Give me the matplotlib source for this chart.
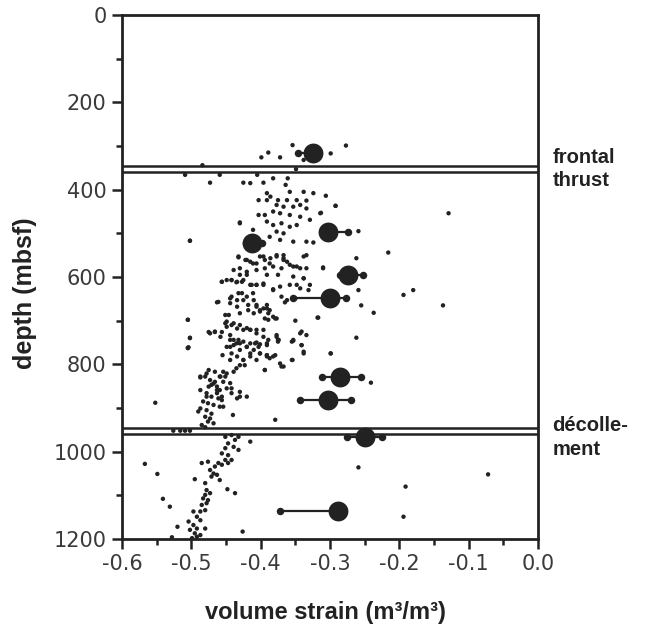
import matplotlib
matplotlib.use("Agg")
import matplotlib.pyplot as plt
import matplotlib.transforms as mtransforms

# ---------------- data ----------------
# Large symbols (mean strain per interval) with ranges
big_strain = [-0.325, -0.303, -0.413, -0.274, -0.300, -0.2855, -0.303, -0.2495, -0.289]
big_depth = [317, 496, 521, 595, 649, 830, 882, 966, 1136]
big_low = [-0.346, -0.310, -0.421, -0.285, -0.354, -0.311, -0.343, -0.276, -0.372]
big_high = [-0.325, -0.274, -0.398, -0.252, -0.277, -0.255, -0.270, -0.225, -0.289]

# Small symbols: above the frontal thrust
upper_strain = [-0.399, -0.389, -0.372, -0.299, -0.338, -0.354, -0.277, -0.484, -0.349]
upper_depth = [326, 315, 326, 317, 332, 298, 299, 344, 353]

# Small symbols: between frontal thrust and decollement
mid_strain = [
    -0.509, -0.473, -0.459, -0.425, -0.415, -0.405, -0.396, -0.382, -0.361, -0.364,
    -0.358, -0.391, -0.386, -0.403, -0.391, -0.375, -0.362, -0.338, -0.324, -0.306,
    -0.348, -0.334, -0.292, -0.377, -0.367, -0.353, -0.343, -0.334, -0.403, -0.394,
    -0.382, -0.372, -0.358, -0.343, -0.313, -0.329, -0.430, -0.391, -0.382, -0.370,
    -0.358, -0.348, -0.411, -0.377, -0.367, -0.387, -0.372, -0.353, -0.334, -0.324,
    -0.502, -0.292, -0.314, -0.129, -0.430, -0.502, -0.259, -0.216, -0.262, -0.310,
    -0.180, -0.194, -0.137, -0.237, -0.259, -0.255, -0.318, -0.505, -0.502, -0.505,
    -0.262, -0.299, -0.354, -0.370, -0.394, -0.241,
    -0.432, -0.420, -0.411, -0.401, -0.394, -0.387, -0.377, -0.367, -0.367, -0.358,
    -0.348, -0.338, -0.334, -0.310, -0.456, -0.442, -0.435, -0.427, -0.415, -0.406,
    -0.396, -0.430, -0.420, -0.391, -0.375, -0.358, -0.348, -0.338, -0.329, -0.463,
    -0.444, -0.444, -0.432, -0.425, -0.418, -0.411, -0.406, -0.401, -0.391, -0.387,
    -0.379, -0.382, -0.365, -0.394, -0.389, -0.451, -0.449, -0.439, -0.430, -0.420,
    -0.415, -0.406, -0.396, -0.475, -0.466, -0.456, -0.444, -0.444, -0.439, -0.432,
    -0.425, -0.415, -0.406, -0.401, -0.391, -0.377, -0.375, -0.353, -0.341, -0.334,
    -0.350, -0.317, -0.502, -0.505, -0.505,
    -0.504, -0.455, -0.444, -0.444, -0.435, -0.430, -0.420, -0.415, -0.408, -0.403,
    -0.401, -0.391, -0.391, -0.387, -0.379, -0.372, -0.367, -0.425, -0.430, -0.435,
    -0.439, -0.423, -0.475, -0.454, -0.449, -0.459, -0.451, -0.487, -0.480, -0.473,
    -0.466, -0.471, -0.463, -0.459, -0.463, -0.478, -0.471, -0.461, -0.456, -0.483,
    -0.476, -0.468, -0.459, -0.487, -0.490, -0.478, -0.471, -0.480, -0.473, -0.476,
    -0.468, -0.444, -0.442, -0.430, -0.454, -0.440, -0.379, -0.552, -0.394, -0.355,
    -0.341, -0.338, -0.299, -0.375, -0.355, -0.526, -0.516, -0.509, -0.502, -0.485,
    -0.480,
    -0.432, -0.422, -0.415, -0.406, -0.396, -0.386, -0.377, -0.367, -0.362, -0.353,
    -0.343, -0.334, -0.439, -0.430, -0.420, -0.406, -0.394, -0.382, -0.370, -0.456,
    -0.449, -0.442, -0.434, -0.425, -0.413, -0.406, -0.396, -0.382, -0.372, -0.353,
    -0.338, -0.343, -0.331, -0.442, -0.434, -0.427, -0.420, -0.410, -0.406, -0.396,
    -0.389, -0.382, -0.377, -0.434, -0.430, -0.418, -0.410, -0.401, -0.391, -0.446,
    -0.461, -0.451, -0.370, -0.362, -0.350,
    -0.473, -0.466, -0.458, -0.449, -0.442, -0.434, -0.425, -0.415, -0.406, -0.396,
    -0.389, -0.439, -0.430, -0.420, -0.410, -0.401, -0.391, -0.382, -0.449, -0.442,
    -0.434, -0.425, -0.415, -0.406, -0.391, -0.377, -0.374, -0.353, -0.343, -0.341,
    -0.338,
    -0.487, -0.478, -0.466, -0.458, -0.454, -0.468, -0.475, -0.463, -0.449, -0.442,
    -0.456, -0.430, -0.434, -0.420, -0.487, -0.478,
]
mid_depth = [
    366, 384, 366, 384, 385, 366, 384, 374, 374, 389,
    405, 408, 416, 424, 424, 424, 424, 405, 408, 414,
    424, 425, 437, 435, 439, 439, 435, 443, 458, 458,
    450, 454, 458, 462, 453, 469, 475, 473, 481, 477,
    485, 481, 492, 496, 500, 508, 515, 519, 519, 521,
    517, 437, 454, 454, 477, 517, 495, 544, 557, 580,
    630, 641, 665, 682, 630, 665, 693, 698, 739, 762,
    739, 775, 790, 805, 813, 842,
    553, 561, 569, 553, 561, 569, 550, 550, 561, 572,
    576, 553, 550, 578, 611, 607, 612, 611, 618, 618,
    618, 595, 595, 595, 595, 618, 618, 603, 618, 658,
    649, 660, 637, 653, 664, 637, 664, 676, 664, 676,
    695, 630, 658, 695, 698, 687, 702, 706, 710, 717,
    721, 721, 721, 726, 726, 726, 733, 744, 756, 744,
    748, 752, 750, 754, 756, 733, 744, 746, 725, 733,
    700, 693, 740, 698, 763,
    761, 779, 790, 760, 752, 767, 760, 775, 752, 760,
    775, 752, 779, 786, 779, 798, 805, 790, 802, 809,
    817, 802, 813, 817, 821, 828, 828, 830, 828, 836,
    840, 847, 851, 859, 866, 866, 874, 878, 882, 885,
    889, 893, 897, 901, 908, 905, 913, 920, 924, 931,
    935, 843, 855, 874, 897, 916, 927, 888, 813, 790,
    756, 775, 775, 748, 748, 952, 952, 952, 952, 939,
    944,
    555, 561, 565, 569, 553, 557, 553, 557, 565, 576,
    580, 580, 584, 580, 588, 584, 580, 576, 580, 611,
    607, 607, 611, 607, 618, 618, 615, 628, 622, 599,
    603, 626, 630, 645, 653, 637, 645, 653, 668, 672,
    683, 691, 695, 668, 683, 676, 683, 679, 672, 687,
    657, 706, 645, 653, 649,
    729, 725, 737, 714, 710, 718, 721, 721, 729, 737,
    744, 744, 752, 760, 767, 775, 782, 782, 760, 775,
    782, 790, 782, 790, 779, 737, 744, 744, 729, 756,
    771,
    828, 821, 817, 828, 840, 844, 851, 859, 855, 866,
    874, 863, 878, 874, 859, 874,
]

# Small symbols: below the decollement
low_strain = [
    -0.451, -0.442, -0.437, -0.432, -0.447, -0.451, -0.439, -0.432, -0.456, -0.447,
    -0.442, -0.451, -0.461, -0.466, -0.456, -0.447, -0.473, -0.468, -0.471, -0.463,
    -0.459, -0.476, -0.485, -0.480, -0.415, -0.567, -0.549, -0.495, -0.478, -0.480,
    -0.473, -0.483, -0.476, -0.478, -0.485, -0.480, -0.487, -0.497, -0.492, -0.504,
    -0.497, -0.487, -0.492, -0.502, -0.495, -0.480, -0.487, -0.492, -0.499, -0.448,
    -0.437, -0.541, -0.531, -0.520, -0.528, -0.426, -0.259, -0.191, -0.072, -0.194,
]
low_depth = [
    966, 962, 973, 966, 981, 992, 989, 996, 1004, 1008,
    1019, 1019, 1026, 1034, 1030, 1026, 1042, 1050, 1057, 1053,
    1065, 1023, 1026, 1072, 977, 1028, 1051, 1063, 1088, 1099,
    1095, 1107, 1111, 1118, 1122, 1134, 1137, 1137, 1149, 1160,
    1168, 1157, 1176, 1179, 1187, 1176, 1191, 1195, 1198, 1086,
    1095, 1108, 1126, 1172, 1196, 1183, 1036, 1080, 1052, 1149,
]

fault_depths = [(346, 360), (945, 960)]
fault_labels = ["frontal\nthrust", "décolle-\nment"]
fault_label_depth = [353, 968]

x_ticks = [-0.6, -0.5, -0.4, -0.3, -0.2, -0.1, 0.0]
y_ticks = [0, 200, 400, 600, 800, 1000, 1200]

# ---------------- plot ----------------
plt.rcParams['axes.unicode_minus'] = False
ink = "#222222"

fig = plt.figure(figsize=(6.59, 6.28), dpi=100)
ax = fig.add_axes([122 / 659, 1 - 539 / 628, 416 / 659, 524 / 628])

# fault lines (double lines)
for d1, d2 in fault_depths:
    ax.axhline(d1, color=ink, lw=1.8, zorder=2)
    ax.axhline(d2, color=ink, lw=1.8, zorder=2)

# small scatter
for xs, ds in [(upper_strain, upper_depth), (mid_strain, mid_depth), (low_strain, low_depth)]:
    ax.scatter(xs, ds, s=10, color=ink, edgecolors='none', zorder=3)

# big symbols with range bars
for x, d, lo, hi in zip(big_strain, big_depth, big_low, big_high):
    ax.plot([lo, hi], [d, d], color=ink, lw=1.6, zorder=4)
    ax.plot([lo, hi], [d, d], 'o', color=ink, ms=5.4, mec='none', zorder=4)
ax.plot(big_strain, big_depth, 'o', color=ink, ms=14.3, mec='none', zorder=5, ls='none')

ax.set_xlim(-0.6, 0.0)
ax.set_ylim(1200, 0)
ax.set_xticks(x_ticks)
ax.set_xticklabels(["%.1f" % v for v in x_ticks])
ax.set_yticks(y_ticks)
ax.set_yticklabels([str(v) for v in y_ticks])
ax.set_xticks([-0.55, -0.45, -0.35, -0.25, -0.15, -0.05], minor=True)
ax.set_yticks([100, 300, 500, 700, 900, 1100], minor=True)

for s in ax.spines.values():
    s.set_linewidth(2.0)
    s.set_color(ink)
ax.tick_params(which='major', direction='out', length=7, width=1.8, color=ink,
               labelsize=15, labelcolor="#3a3a3a", pad=4)
ax.tick_params(which='minor', direction='out', length=4.5, width=1.8, color=ink)
for lab in ax.get_xticklabels() + ax.get_yticklabels():
    lab.set_family("DejaVu Sans")

ax.set_xlabel("volume strain (m³/m³)", fontsize=17, fontweight='bold',
              family="Liberation Sans", color=ink)
ax.xaxis.set_label_coords(0.488, -0.118)
ax.set_ylabel("depth (mbsf)", fontsize=18, fontweight='bold',
              family="Liberation Sans", color=ink)
ax.yaxis.set_label_coords(-0.205, 0.47)

trans = mtransforms.blended_transform_factory(ax.transAxes, ax.transData)
for lab, dd in zip(fault_labels, fault_label_depth):
    ax.text(1.035, dd, lab, transform=trans, ha='left', va='center',
            fontsize=14.5, fontweight='bold', family="Liberation Sans",
            color=ink, linespacing=1.3)

fig.savefig("out.png", dpi=100)
